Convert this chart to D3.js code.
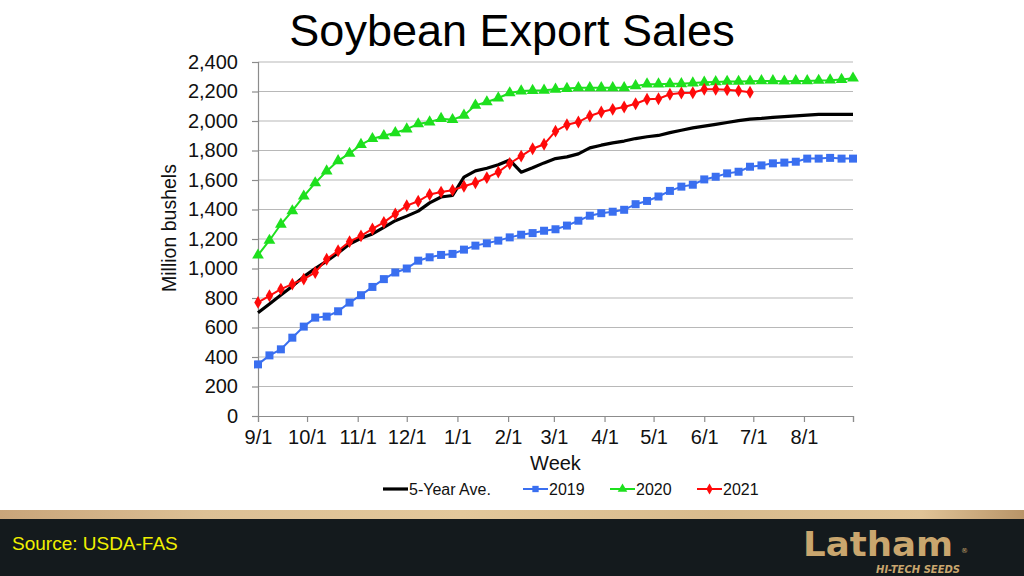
<!DOCTYPE html>
<html>
<head>
<meta charset="utf-8">
<script src="https://cdn.jsdelivr.net/npm/d3@7"></script>
<style>
  html, body { margin: 0; padding: 0; background: #ffffff; }
  svg { display: block; }
</style>
</head>
<body>
<svg id="chart" width="1024" height="576"></svg>
<script>
// ---------- DATA ----------
const title = "Soybean Export Sales";
const seriesNames = ["5-Year Ave.", "2019", "2020", "2021"];
const startDate = new Date(2020, 8, 1);   // 9/1
const endDate = new Date(2021, 7, 31);    // end of marketing year
const yTicks = [0, 200, 400, 600, 800, 1000, 1200, 1400, 1600, 1800, 2000, 2200, 2400];

// weekly cumulative export sales, million bushels (one value per week from 9/1)
const fiveYearAve = [700, 760, 820, 880, 945, 1000, 1050, 1105, 1166, 1205, 1234, 1279, 1324, 1355,
  1389, 1445, 1485, 1495, 1620, 1662, 1680, 1703, 1735, 1653, 1683, 1716, 1745,
  1757, 1777, 1818, 1836, 1852, 1864, 1881, 1893, 1902, 1921, 1937, 1953,
  1965, 1977, 1990, 2003, 2013, 2018, 2025, 2030, 2035, 2040, 2045, 2045, 2045, 2045];
const y2019 = [350, 411, 452, 531, 606, 667, 674, 710, 769, 819, 875, 928, 973, 1000,
  1053, 1076, 1092, 1099, 1128, 1155, 1171, 1189, 1211, 1229, 1240, 1256, 1266,
  1291, 1324, 1358, 1375, 1385, 1398, 1436, 1458, 1488, 1526, 1555, 1568,
  1604, 1622, 1645, 1656, 1690, 1699, 1713, 1718, 1724, 1745, 1745, 1750, 1745, 1745];
const y2020 = [1090, 1190, 1300, 1390, 1490, 1580, 1660, 1730, 1780, 1840, 1880, 1900, 1920, 1945,
  1980, 1993, 2016, 2009, 2038, 2106, 2129, 2156, 2190, 2203, 2206, 2208, 2215,
  2220, 2225, 2225, 2225, 2225, 2225, 2238, 2250, 2250, 2252, 2252, 2257,
  2262, 2265, 2268, 2268, 2270, 2272, 2272, 2270, 2272, 2272, 2275, 2277, 2281, 2290];
const y2021 = [770, 815, 860, 894, 928, 973, 1063, 1120, 1182, 1221, 1268, 1313, 1370, 1426,
  1456, 1502, 1518, 1531, 1558, 1581, 1616, 1654, 1712, 1762, 1812, 1842, 1931,
  1975, 1993, 2034, 2061, 2079, 2095, 2117, 2147, 2151, 2181, 2190, 2192,
  2215, 2215, 2212, 2205, 2195];

// ---------- LAYOUT ----------
const svg = d3.select("#chart");
const W = 1024, H = 576;
const plot = { left: 258, right: 853, top: 62, bottom: 416 };
const font = "'Liberation Sans', Arial, sans-serif";

const x = d3.scaleTime().domain([startDate, endDate]).range([plot.left, plot.right]);
const y = d3.scaleLinear().domain([0, 2400]).range([plot.bottom, plot.top]);
const weekDate = i => d3.timeDay.offset(startDate, 7 * i);

// title
svg.append("text").attr("x", 512).attr("y", 46).attr("text-anchor", "middle")
  .attr("font-family", font).attr("font-size", 45).attr("fill", "#000").text(title);

// gridlines
svg.append("g").selectAll("line").data(yTicks.filter(d => d > 0)).join("line")
  .attr("x1", plot.left).attr("x2", plot.right)
  .attr("y1", d => y(d)).attr("y2", d => y(d))
  .attr("stroke", "#b8b8b8").attr("stroke-width", 1.2);

// y axis
const yAxis = d3.axisLeft(y).tickValues(yTicks).tickFormat(d3.format(",")).tickSize(6).tickPadding(14);
const gy = svg.append("g").attr("transform", `translate(${plot.left},0)`).call(yAxis);
gy.select(".domain").attr("stroke", "#8c8c8c").attr("stroke-width", 1.2);
gy.selectAll(".tick line").attr("stroke", "#8c8c8c").attr("stroke-width", 1.2);
gy.selectAll(".tick text").attr("font-family", font).attr("font-size", 20).attr("fill", "#111");

// x axis
const monthTicks = d3.timeMonth.range(startDate, endDate).concat([endDate]);
const xAxis = d3.axisBottom(x).tickValues(monthTicks)
  .tickFormat(d => (+d === +endDate ? "" : d3.timeFormat("%-m/%-d")(d))).tickSize(6).tickPadding(8);
const gx = svg.append("g").attr("transform", `translate(0,${plot.bottom})`).call(xAxis);
gx.select(".domain").attr("stroke", "#8c8c8c").attr("stroke-width", 1.2);
gx.selectAll(".tick line").attr("stroke", "#8c8c8c").attr("stroke-width", 1.2);
gx.selectAll(".tick text").attr("font-family", font).attr("font-size", 20).attr("fill", "#111");

// axis titles
svg.append("text").attr("x", (plot.left + plot.right) / 2).attr("y", 470).attr("text-anchor", "middle")
  .attr("font-family", font).attr("font-size", 20).attr("fill", "#111").text("Week");
svg.append("text").attr("transform", `translate(176,228) rotate(-90)`).attr("text-anchor", "middle")
  .attr("font-family", font).attr("font-size", 19.5).attr("fill", "#111").text("Million bushels");

// series
const colors = { ave: "#000000", b: "#3a6ff0", g: "#1ee01e", r: "#ff0a0a" };
const line = d3.line().x((d, i) => x(weekDate(i))).y(d => y(d));

svg.append("path").datum(fiveYearAve).attr("d", line).attr("fill", "none")
  .attr("stroke", colors.ave).attr("stroke-width", 3.2).attr("stroke-linejoin", "round");

function drawSeries(data, color, symbolType, size) {
  svg.append("path").datum(data).attr("d", line).attr("fill", "none")
    .attr("stroke", color).attr("stroke-width", 2);
  svg.append("g").selectAll("path").data(data).join("path")
    .attr("transform", (d, i) => `translate(${x(weekDate(i))},${y(d)})`)
    .attr("d", d3.symbol().type(symbolType).size(size))
    .attr("fill", color);
}
drawSeries(y2019, colors.b, d3.symbolSquare, 64);
drawSeries(y2020, colors.g, d3.symbolTriangle, 60);
drawSeries(y2021, colors.r, d3.symbolDiamond, 48);

// legend
const legendY = 489;
const legendItems = [
  { name: seriesNames[0], color: colors.ave, x: 383, sym: null, w: 3.2 },
  { name: seriesNames[1], color: colors.b, x: 523, sym: d3.symbolSquare, size: 40, w: 2 },
  { name: seriesNames[2], color: colors.g, x: 610, sym: d3.symbolTriangle, size: 40, w: 2 },
  { name: seriesNames[3], color: colors.r, x: 697, sym: d3.symbolDiamond, size: 34, w: 2 }
];
const lg = svg.append("g");
legendItems.forEach(it => {
  lg.append("line").attr("x1", it.x).attr("x2", it.x + 25).attr("y1", legendY).attr("y2", legendY)
    .attr("stroke", it.color).attr("stroke-width", it.w);
  if (it.sym) {
    lg.append("path").attr("transform", `translate(${it.x + 12.5},${legendY})`)
      .attr("d", d3.symbol().type(it.sym).size(it.size)).attr("fill", it.color);
  }
  lg.append("text").attr("x", it.x + 26).attr("y", legendY + 6)
    .attr("font-family", font).attr("font-size", 16).attr("fill", "#111").text(it.name);
});

// footer: wood strip + dark band
const defs = svg.append("defs");
const grad = defs.append("linearGradient").attr("id", "wood").attr("x1", "0").attr("x2", "1");
[["0", "#c9a57a"], ["0.2", "#dcc095"], ["0.45", "#e3c89b"], ["0.7", "#d8bb8d"], ["0.9", "#e0c497"], ["1", "#b89468"]]
  .forEach(([o, c]) => grad.append("stop").attr("offset", o).attr("stop-color", c));
svg.append("rect").attr("x", 0).attr("y", 510).attr("width", W).attr("height", 10).attr("fill", "url(#wood)");
svg.append("rect").attr("x", 0).attr("y", 519).attr("width", W).attr("height", 57).attr("fill", "#141a1d");

svg.append("text").attr("x", 12).attr("y", 550).attr("font-family", font).attr("font-size", 19)
  .attr("fill", "#f0f000").text("Source: USDA-FAS");

// logo
svg.append("text").attr("x", 803).attr("y", 556).attr("font-family", "'DejaVu Sans', sans-serif")
  .attr("font-weight", "bold").attr("font-size", 34).attr("fill", "#c9a66e")
  .attr("textLength", 150).attr("lengthAdjust", "spacingAndGlyphs").text("Latham");
svg.append("text").attr("x", 961).attr("y", 553).attr("font-family", "'DejaVu Sans', sans-serif")
  .attr("font-size", 7).attr("fill", "#c9a66e").text("®");
svg.append("text").attr("x", 960).attr("y", 573).attr("text-anchor", "end")
  .attr("font-family", "'DejaVu Sans', sans-serif").attr("font-weight", "bold").attr("font-style", "italic")
  .attr("font-size", 10).attr("fill", "#c9a66e").text("HI-TECH SEEDS");
</script>
</body>
</html>
